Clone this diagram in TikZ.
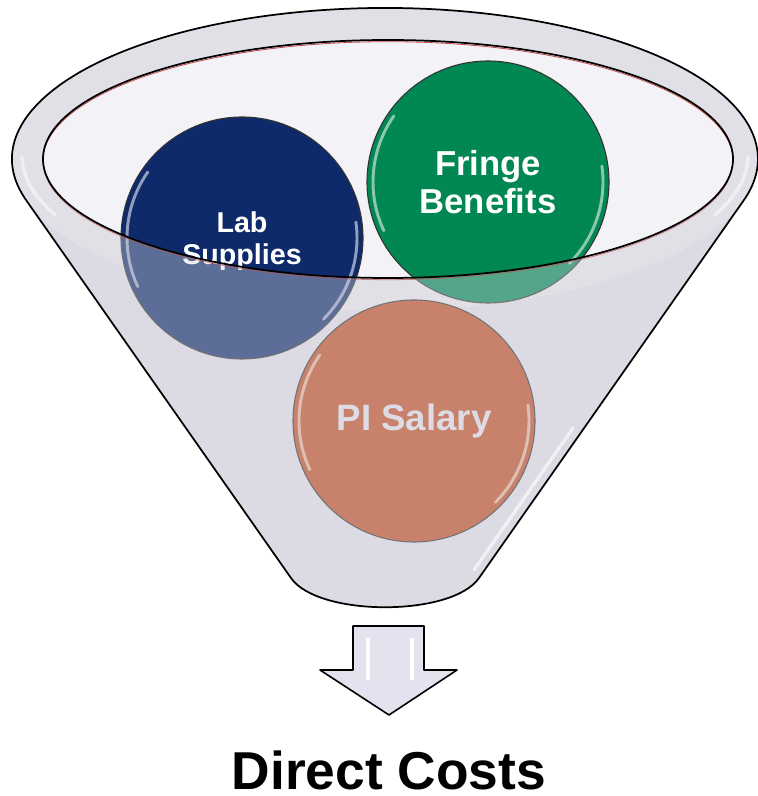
\documentclass[tikz,border=0pt]{standalone}
\usepackage{fontspec}
\setmainfont{Liberation Sans}
\usepackage{tikz}
\definecolor{funnelbody}{RGB}{220,219,227}
\definecolor{funnelrim}{RGB}{229,228,234}
\definecolor{funnelinside}{RGB}{242,242,247}
\definecolor{labblue}{RGB}{15,42,107}
\definecolor{fringegreen}{RGB}{0,135,82}
\definecolor{salaryorange}{RGB}{188,76,35}
\definecolor{salarytext}{RGB}{222,220,232}
\definecolor{arrowfill}{RGB}{228,226,239}

\tikzset{
  bubble/.style={circle, draw=black!80, line width=0.8pt, minimum size=181.5pt,
    inner sep=0pt, align=center, text=white, font=\bfseries},
  gloss/.style={white, opacity=0.55, line width=2.2pt, line cap=round},
}

\begin{document}
\begin{tikzpicture}[x=0.75pt, y=0.75pt]
\useasboundingbox (0,0) rectangle (757,796);

% funnel body and rim
\fill[funnelbody] (26.1,595.9) arc[start angle=195.8, end angle=-15.8, x radius=373, y radius=151]
  -- (479,218) .. controls (452,179) and (318,179) .. (291,218) -- cycle;
\fill[funnelrim] (385,637) ellipse[x radius=373, y radius=151];
\fill[funnelinside] (388,637) ellipse[x radius=345, y radius=119];

% the three cost items
\node[bubble, fill=labblue, text depth=0pt, font=\bfseries\fontsize{21.5}{23.5}\selectfont] (lab) at (242,558) {Lab\\Supplies};
\node[bubble, fill=fringegreen, font=\bfseries\fontsize{26}{29}\selectfont] (fringe) at (488,614) {Fringe\\Benefits};
\node[bubble, fill=salaryorange, text=salarytext, font=\bfseries\fontsize{27.5}{30}\selectfont] (salary) at (414,375) {PI Salary};

% glossy edges
\foreach \c in {lab, fringe, salary} {
  \draw[gloss] ([shift={(145:115)}]\c.center) arc[start angle=145, end angle=205, radius=115];
  \draw[gloss] ([shift={(-45:115)}]\c.center) arc[start angle=-45, end angle=8, radius=115];
}

% front wall of the funnel, see-through, with both outlines
\draw[red!70!black, opacity=0.7, line width=0.6pt] (388,635.3) ellipse[x radius=345, y radius=119];
\filldraw[fill=funnelbody, fill opacity=0.38, draw=black, line width=1.3pt, even odd rule]
  (26.1,595.9) arc[start angle=195.8, end angle=-15.8, x radius=373, y radius=151]
  -- (479,218) .. controls (452,179) and (318,179) .. (291,218) -- cycle
  (388,637) ellipse[x radius=345, y radius=119];

% light streaks on the glass
\draw[white, opacity=0.6, line width=2.5pt, line cap=round] (573,368) -- (474,226);
\draw[white, opacity=0.5, line width=2.5pt] (22,640) arc[start angle=180, end angle=205, x radius=363, y radius=141];
\draw[white, opacity=0.5, line width=2.5pt] (748,640) arc[start angle=0, end angle=-25, x radius=363, y radius=141];

% arrow down
\draw[fill=arrowfill, line width=1.2pt, line join=round]
  (353,170) -- (424,170) -- (424,126) -- (457,126) -- (389,81) -- (320,126) -- (353,126) -- cycle;
\draw[white, line width=2.5pt] (368,158) -- (368,116);
\draw[white, line width=2.5pt] (412,158) -- (412,116);

\node[font=\bfseries\fontsize{40}{44}\selectfont, inner sep=0pt, anchor=base] (title) at (389,7) {Direct Costs};
\end{tikzpicture}
\end{document}
